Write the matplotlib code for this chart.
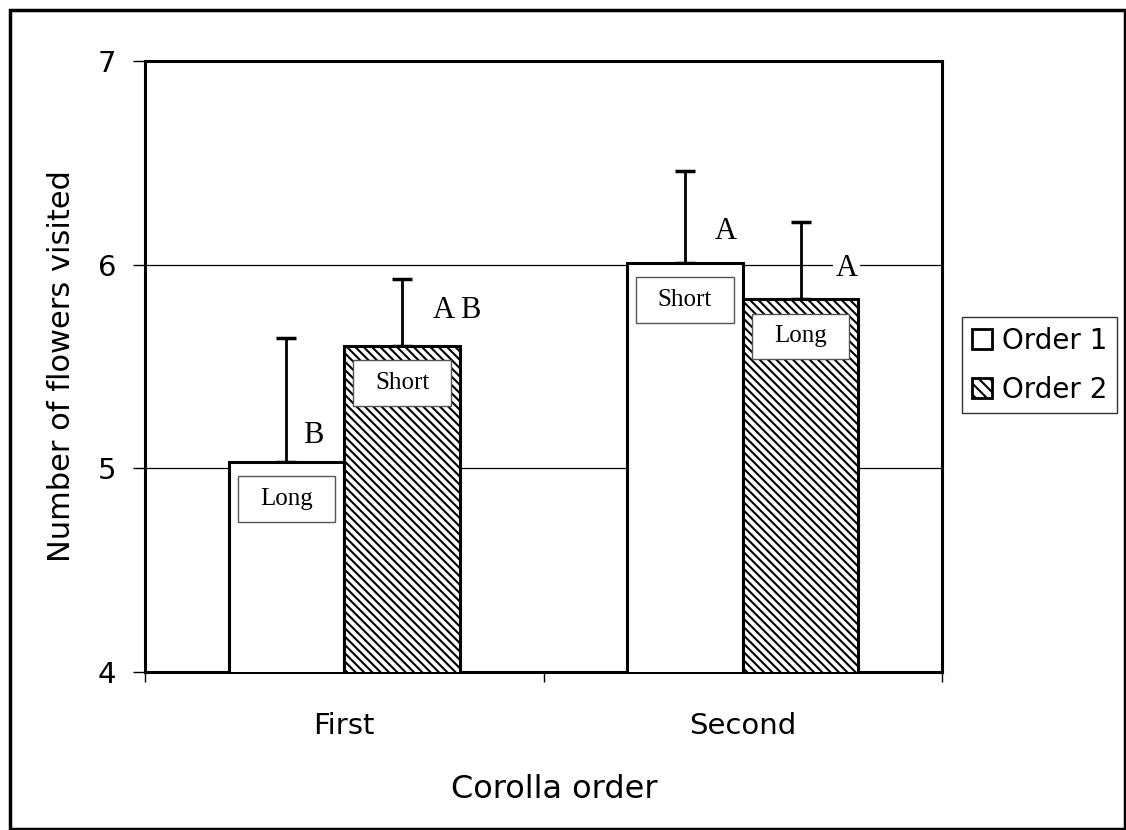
import matplotlib.pyplot as plt
from matplotlib.patches import Rectangle, Patch
import numpy as np

# data
categories = ['First', 'Second']
series = ['Order 1', 'Order 2']
means_order1 = [5.03, 6.01]
means_order2 = [5.60, 5.83]
err_order1 = [0.61, 0.45]
err_order2 = [0.33, 0.38]
inner_order1 = ['Long', 'Short']
inner_order2 = ['Short', 'Long']
letters_order1 = ['B', 'A']
letters_order2 = ['A B', 'A']

plt.rcParams['font.family'] = 'DejaVu Sans'
plt.rcParams['hatch.linewidth'] = 1.5

fig = plt.figure(figsize=(11.26, 8.30), dpi=100)
ax = fig.add_axes([0.1288, 0.1904, 0.7078, 0.7361])

# outer frame around the figure
fig.patches.append(Rectangle((0.009, 0.001), 0.99, 0.987, transform=fig.transFigure,
                             fill=False, lw=2.5, ec='black'))

x = np.arange(len(categories))
w = 0.29
ax.bar(x - w / 2, means_order1, w, color='white', edgecolor='black',
       linewidth=2.2, zorder=3)
ax.bar(x + w / 2, means_order2, w, color='white', edgecolor='black',
       hatch='\\\\\\\\', linewidth=2.2, zorder=3)

# upper error bars only
ax.errorbar(x - w / 2, means_order1, yerr=[np.zeros(2), err_order1], fmt='none',
            ecolor='black', elinewidth=2, capsize=7.5, capthick=2.5, zorder=2)
ax.errorbar(x + w / 2, means_order2, yerr=[np.zeros(2), err_order2], fmt='none',
            ecolor='black', elinewidth=2, capsize=7.5, capthick=2.5, zorder=2)

# white label boxes inside the bars
bw, bh, gap = 0.245, 0.225, 0.07
for xs, vals, labs in [(x - w / 2, means_order1, inner_order1),
                       (x + w / 2, means_order2, inner_order2)]:
    for xi, v, lab in zip(xs, vals, labs):
        ax.add_patch(Rectangle((xi - bw / 2, v - gap - bh), bw, bh, facecolor='white',
                               edgecolor='#555555', linewidth=1, zorder=4))
        ax.text(xi, v - gap - bh / 2, lab, ha='center', va='center',
                family='Liberation Serif', fontsize=18, zorder=5)

# significance letters (offsets in points from the bar top)
offs1 = [(19.5, 19.5), (29, 22.5)]
offs2 = [(39.5, 26), (33, 22.5)]
for xs, vals, labs, offs in [(x - w / 2, means_order1, letters_order1, offs1),
                             (x + w / 2, means_order2, letters_order2, offs2)]:
    for xi, v, lab, o in zip(xs, vals, labs, offs):
        ax.annotate(lab, (xi, v), xytext=o, textcoords='offset points',
                    ha='center', va='center', family='Liberation Serif',
                    fontsize=22, zorder=5,
                    bbox=dict(facecolor='white', edgecolor='none', pad=2))

ax.set_xlim(-0.5, 1.5)
ax.set_ylim(4, 7)
ax.set_yticks([4, 5, 6, 7])
ax.yaxis.grid(True, color='black', linewidth=0.9)
ax.set_axisbelow(True)

ax.set_xticks([-0.5, 0.5, 1.5])
ax.set_xticklabels([])
ax.set_xticks(x, minor=True)
ax.set_xticklabels(categories, minor=True, fontsize=21)
ax.tick_params(axis='x', which='minor', length=0, pad=29)
ax.tick_params(axis='x', which='major', length=7, width=1)
ax.tick_params(axis='y', length=8.6, width=1, labelsize=21, pad=12)

for s in ax.spines.values():
    s.set_linewidth(2.2)

ax.set_xlabel('Corolla order', fontsize=23, labelpad=24)
ax.xaxis.label.set_x(0.514)
ax.set_ylabel('Number of flowers visited', fontsize=22, labelpad=16)

handles = [Patch(facecolor='white', edgecolor='black', linewidth=2),
           Patch(facecolor='white', edgecolor='black', hatch='\\\\\\', linewidth=2)]
fig.legend(handles, series, loc='upper left', bbox_to_anchor=(0.8543, 0.618),
           fontsize=20, frameon=True, fancybox=False, edgecolor='black',
           handlelength=0.75, handleheight=0.75, handletextpad=0.35,
           borderpad=0.35, labelspacing=0.75, borderaxespad=0)

fig.savefig('out.png', dpi=100)
